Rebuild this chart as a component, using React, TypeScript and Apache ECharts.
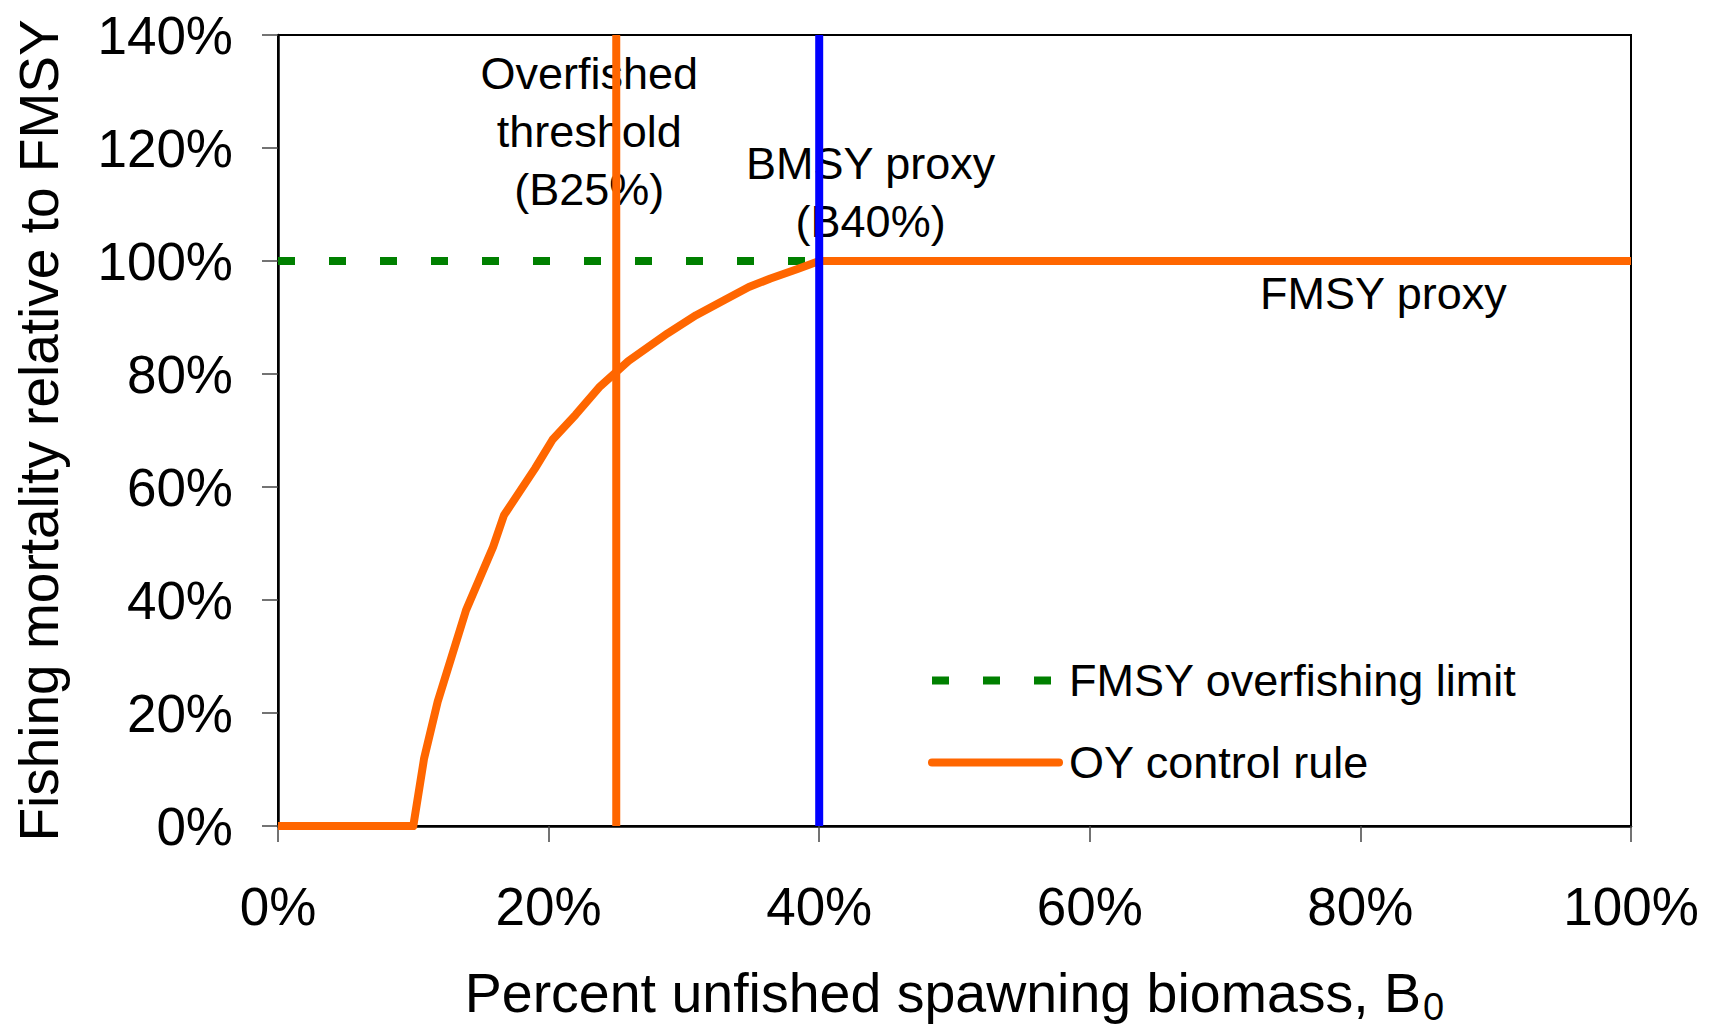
import React, { useEffect, useRef } from "react";
import * as echarts from "echarts";

// ---- data ----
const xTickValues = [0, 20, 40, 60, 80, 100];
const yTickValues = [0, 20, 40, 60, 80, 100, 120, 140];
const biomassPct = [0, 10, 10.8, 11.8, 13.9, 15.9, 16.7, 19.0, 20.3, 22.0, 23.8, 25.9, 28.8, 30.9, 33.0, 34.8, 36.4, 38.4, 40, 100];
const controlRulePct = [0, 0, 12, 22, 38.2, 49.4, 55, 63.3, 68.4, 72.8, 77.8, 82.3, 87.2, 90.4, 93.1, 95.4, 96.9, 98.6, 100, 100];
const fmsyLimitX = [0, 100];
const fmsyLimitY = [100, 100];
const overfishedThresholdX = 25;
const bmsyProxyX = 40;
const verticalSpanY = [0, 140];
const annotationTexts = ["Overfished\nthreshold\n(B25%)", "BMSY proxy\n(B40%)", "FMSY proxy"];
const annotationX = [23.0, 43.8, 81.7];
const annotationY = [123.0, 112.1, 94.3];
const seriesNames = ["FMSY overfishing limit", "OY control rule"];

const FONT = "'Liberation Sans', Arial, Helvetica, sans-serif";

export default function App() {
  const ref = useRef<HTMLDivElement>(null);
  useEffect(() => {
    if (!ref.current) return;
    const chart = echarts.init(ref.current, undefined, { renderer: "svg" });
    const curve = biomassPct.map((x, i) => [x, controlRulePct[i]]);
    const limit = fmsyLimitX.map((x, i) => [x, fmsyLimitY[i]]);
    const annotations = annotationX.map((x, i) => [x, annotationY[i], i]);
    chart.setOption({
      animation: false,
      backgroundColor: "#ffffff",
      textStyle: { fontFamily: FONT, color: "#000" },
      grid: {
        left: 278,
        right: 85,
        top: 35,
        bottom: 204,
        outerBoundsMode: "none",
        containLabel: false,
        show: true,
        borderColor: "#000",
        borderWidth: 2,
        backgroundColor: "transparent",
      },
      legend: {
        orient: "vertical",
        left: 928,
        top: 658,
        padding: 0,
        itemWidth: 127,
        itemHeight: 40,
        itemGap: 37,
        selectedMode: false,
        textStyle: { fontSize: 45, color: "#000", fontFamily: FONT, lineHeight: 40, padding: [0, 0, 0, 5] },
        data: [
          { name: seriesNames[0], itemStyle: { opacity: 0 }, lineStyle: { width: 8, cap: "butt" } },
          { name: seriesNames[1], itemStyle: { opacity: 0 }, lineStyle: { width: 8, cap: "round" } },
        ],
      },
      xAxis: {
        type: "value",
        min: 0,
        max: 100,
        interval: 20,
        splitLine: { show: false },
        axisLine: { show: true, onZero: false, lineStyle: { color: "#000", width: 2.5 } },
        axisTick: { show: true, inside: false, length: 16, lineStyle: { color: "#444", width: 1.5 } },
        axisLabel: {
          formatter: (v: number) => (xTickValues.includes(v) ? `${v}%` : ""),
          fontSize: 53,
          lineHeight: 52,
          color: "#000",
          margin: 54,
          fontFamily: FONT,
        },
        name: "{a|Percent unfished spawning biomass, B}{s|0}",
        nameLocation: "middle",
        nameGap: 139,
        nameTextStyle: {
          color: "#000",
          fontFamily: FONT,
          verticalAlign: "top",
          rich: {
            a: { fontSize: 55.5, fontFamily: FONT, color: "#000", lineHeight: 60, verticalAlign: "top" },
            s: { fontSize: 38, fontFamily: FONT, color: "#000", lineHeight: 61, verticalAlign: "bottom", padding: [0, 0, 0, 2] },
          },
        },
      },
      yAxis: {
        type: "value",
        min: verticalSpanY[0],
        max: verticalSpanY[1],
        interval: 20,
        splitLine: { show: false },
        axisLine: { show: true, lineStyle: { color: "#000", width: 2.5 } },
        axisTick: { show: true, inside: false, length: 16, lineStyle: { color: "#444", width: 1.5 } },
        axisLabel: {
          formatter: (v: number) => (yTickValues.includes(v) ? `${v}%` : ""),
          fontSize: 53,
          color: "#000",
          margin: 45,
          fontFamily: FONT,
        },
        name: "Fishing mortality relative to FMSY",
        nameLocation: "middle",
        nameGap: 212,
        nameTextStyle: { fontSize: 55, color: "#000", fontFamily: FONT },
      },
      series: [
        {
          name: "annotations",
          type: "scatter",
          z: 0,
          silent: true,
          symbolSize: 0,
          itemStyle: { opacity: 1 },
          data: annotations,
          label: {
            show: true,
            position: "inside",
            formatter: (p: any) => annotationTexts[p.data[2]],
            fontSize: 45,
            lineHeight: 58,
            color: "#000",
            opacity: 1,
            textBorderWidth: 0,
            textBorderColor: "transparent",
            fontFamily: FONT,
            align: "center",
            verticalAlign: "middle",
          },
        },
        {
          name: seriesNames[0],
          type: "line",
          z: 3,
          data: limit,
          symbol: "none",
          lineStyle: { color: "#008000", width: 8, type: [17, 34], cap: "butt" },
          itemStyle: { color: "#008000" },
        },
        {
          name: "B25",
          type: "line",
          z: 4,
          data: verticalSpanY.map((y) => [overfishedThresholdX, y]),
          symbol: "none",
          lineStyle: { color: "#FF6600", width: 8 },
        },
        {
          name: seriesNames[1],
          type: "line",
          z: 5,
          data: curve,
          symbol: "none",
          lineStyle: { color: "#FF6600", width: 8, join: "round" },
          itemStyle: { color: "#FF6600" },
        },
        {
          name: "B40",
          type: "line",
          z: 6,
          data: verticalSpanY.map((y) => [bmsyProxyX, y]),
          symbol: "none",
          lineStyle: { color: "#0000FF", width: 8 },
        },
      ],
    });
    return () => chart.dispose();
  }, []);
  return (
    <div
      ref={ref}
      style={{ position: "fixed", left: 0, top: 0, width: 1716, height: 1030, background: "#fff" }}
    />
  );
}
